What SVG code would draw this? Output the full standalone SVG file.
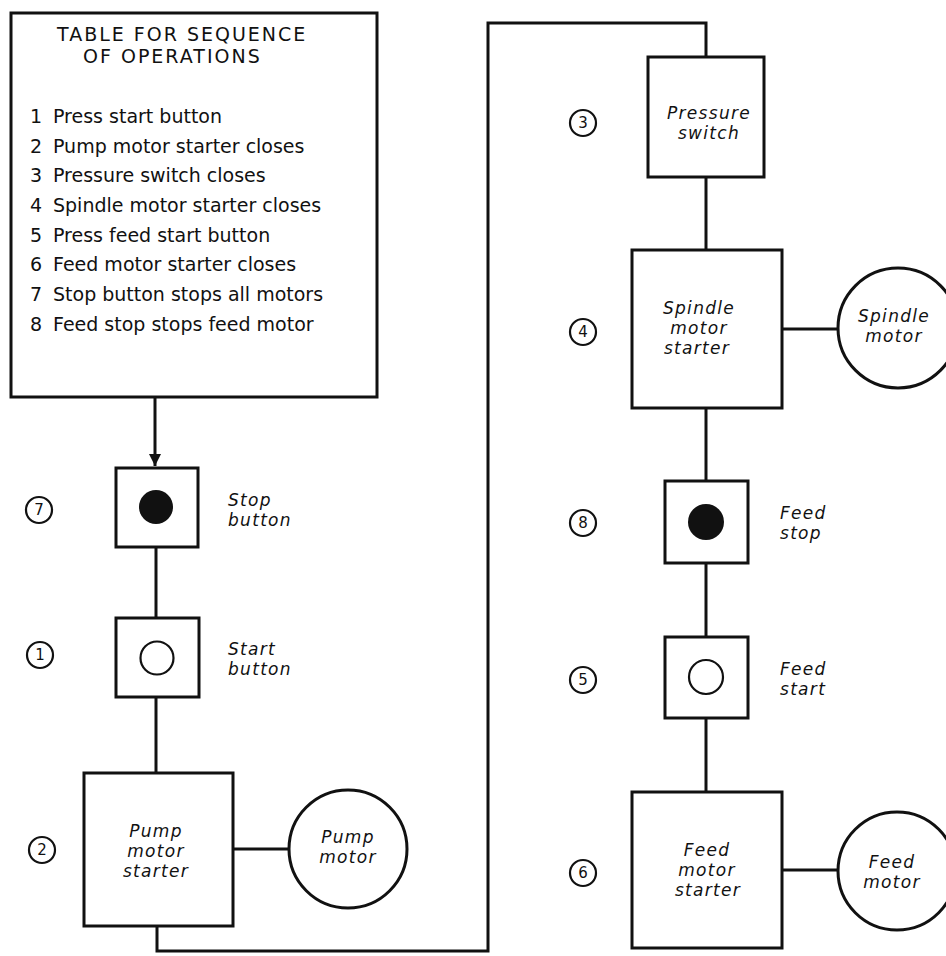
<svg xmlns="http://www.w3.org/2000/svg" width="946" height="956" viewBox="0 0 946 956">
<style>
  .box { fill: #fff; stroke: #111; stroke-width: 3; }
  .wire { fill: none; stroke: #111; stroke-width: 3; }
  .num { fill: none; stroke: #111; stroke-width: 2.2; }
  .numt { font-family: "DejaVu Sans", sans-serif; font-size: 15px; text-anchor: middle; fill: #111; }
  .lbl { font-family: "DejaVu Sans", "Liberation Sans", sans-serif; font-style: italic; font-size: 17px; letter-spacing: 1.3px; fill: #111; }
  .mid { text-anchor: middle; }
  .tbl { font-family: "DejaVu Sans", "Liberation Sans", sans-serif; font-size: 19px; fill: #111; }
  .ttl { font-family: "DejaVu Sans", "Liberation Sans", sans-serif; font-size: 19px; letter-spacing: 2px; fill: #111; }
</style>
<defs>
  <marker id="arr" viewBox="0 0 10 10" refX="10" refY="5" markerWidth="4" markerHeight="4" orient="auto" markerUnits="strokeWidth">
    <path d="M0,0 L10,5 L0,10 z" fill="#111"/>
  </marker>
</defs>
<rect width="946" height="956" fill="#fff"/>

<g id="connectors">
  <line class="wire" x1="155" y1="397" x2="155" y2="466" marker-end="url(#arr)"/>
  <line class="wire" x1="156" y1="547" x2="156" y2="618"/>
  <line class="wire" x1="156" y1="697" x2="156" y2="773"/>
  <line class="wire" x1="233" y1="849" x2="289" y2="849"/>
  <polyline class="wire" points="157,926 157,951 488,951 488,23 706,23 706,57"/>
  <line class="wire" x1="706" y1="177" x2="706" y2="250"/>
  <line class="wire" x1="782" y1="329" x2="838" y2="329"/>
  <line class="wire" x1="706" y1="408" x2="706" y2="481"/>
  <line class="wire" x1="706" y1="563" x2="706" y2="637"/>
  <line class="wire" x1="706" y1="718" x2="706" y2="792"/>
  <line class="wire" x1="782" y1="870" x2="838" y2="870"/>
</g>

<g id="table">
  <rect class="box" x="11" y="13" width="366" height="384"/>
  <text class="ttl" x="57" y="41">TABLE FOR SEQUENCE</text>
  <text class="ttl" x="83" y="63">OF OPERATIONS</text>
  <text class="tbl" x="30" y="123">1</text><text class="tbl" x="53" y="123">Press start button</text>
  <text class="tbl" x="30" y="153">2</text><text class="tbl" x="53" y="153">Pump motor starter closes</text>
  <text class="tbl" x="30" y="182">3</text><text class="tbl" x="53" y="182">Pressure switch closes</text>
  <text class="tbl" x="30" y="212">4</text><text class="tbl" x="53" y="212">Spindle motor starter closes</text>
  <text class="tbl" x="30" y="242">5</text><text class="tbl" x="53" y="242">Press feed start button</text>
  <text class="tbl" x="30" y="271">6</text><text class="tbl" x="53" y="271">Feed motor starter closes</text>
  <text class="tbl" x="30" y="301">7</text><text class="tbl" x="53" y="301">Stop button stops all motors</text>
  <text class="tbl" x="30" y="331">8</text><text class="tbl" x="53" y="331">Feed stop stops feed motor</text>
</g>

<g id="stop-button">
  <rect class="box" x="116" y="468" width="82" height="79"/>
  <circle cx="156" cy="507" r="17" fill="#111"/>
  <circle class="num" cx="39" cy="510" r="13"/><text class="numt" x="39" y="515">7</text>
  <text class="lbl" x="228" y="506">Stop</text>
  <text class="lbl" x="228" y="526">button</text>
</g>

<g id="start-button">
  <rect class="box" x="116" y="618" width="83" height="79"/>
  <circle cx="157" cy="658" r="16.5" fill="none" stroke="#111" stroke-width="2.2"/>
  <circle class="num" cx="40" cy="655" r="13"/><text class="numt" x="40" y="660">1</text>
  <text class="lbl" x="228" y="655">Start</text>
  <text class="lbl" x="228" y="675">button</text>
</g>

<g id="pump-motor-starter">
  <rect class="box" x="84" y="773" width="149" height="153"/>
  <circle class="num" cx="42" cy="850" r="13"/><text class="numt" x="42" y="855">2</text>
  <text class="lbl mid" x="156" y="837">Pump</text>
  <text class="lbl mid" x="156" y="857">motor</text>
  <text class="lbl mid" x="156" y="877">starter</text>
</g>

<g id="pump-motor">
  <circle class="box" cx="348" cy="849" r="59"/>
  <text class="lbl mid" x="348" y="843">Pump</text>
  <text class="lbl mid" x="348" y="863">motor</text>
</g>

<g id="pressure-switch">
  <rect class="box" x="648" y="57" width="116" height="120"/>
  <circle class="num" cx="583" cy="123" r="13"/><text class="numt" x="583" y="128">3</text>
  <text class="lbl mid" x="709" y="119">Pressure</text>
  <text class="lbl mid" x="709" y="139">switch</text>
</g>

<g id="spindle-motor-starter">
  <rect class="box" x="632" y="250" width="150" height="158"/>
  <circle class="num" cx="583" cy="332" r="13"/><text class="numt" x="583" y="337">4</text>
  <text class="lbl mid" x="699" y="314">Spindle</text>
  <text class="lbl mid" x="699" y="334">motor</text>
  <text class="lbl mid" x="697" y="354">starter</text>
</g>

<g id="spindle-motor">
  <circle class="box" cx="898" cy="328" r="60"/>
  <text class="lbl mid" x="894" y="322">Spindle</text>
  <text class="lbl mid" x="894" y="342">motor</text>
</g>

<g id="feed-stop">
  <rect class="box" x="665" y="481" width="83" height="82"/>
  <circle cx="706" cy="522" r="18" fill="#111"/>
  <circle class="num" cx="583" cy="523" r="13"/><text class="numt" x="583" y="528">8</text>
  <text class="lbl" x="780" y="519">Feed</text>
  <text class="lbl" x="780" y="539">stop</text>
</g>

<g id="feed-start">
  <rect class="box" x="665" y="637" width="83" height="81"/>
  <circle cx="706" cy="677" r="17" fill="none" stroke="#111" stroke-width="2.2"/>
  <circle class="num" cx="583" cy="680" r="13"/><text class="numt" x="583" y="685">5</text>
  <text class="lbl" x="780" y="675">Feed</text>
  <text class="lbl" x="780" y="695">start</text>
</g>

<g id="feed-motor-starter">
  <rect class="box" x="632" y="792" width="150" height="156"/>
  <circle class="num" cx="583" cy="873" r="13"/><text class="numt" x="583" y="878">6</text>
  <text class="lbl mid" x="707" y="856">Feed</text>
  <text class="lbl mid" x="707" y="876">motor</text>
  <text class="lbl mid" x="708" y="896">starter</text>
</g>

<g id="feed-motor">
  <circle class="box" cx="897" cy="871" r="59"/>
  <text class="lbl mid" x="892" y="868">Feed</text>
  <text class="lbl mid" x="892" y="888">motor</text>
</g>
</svg>
